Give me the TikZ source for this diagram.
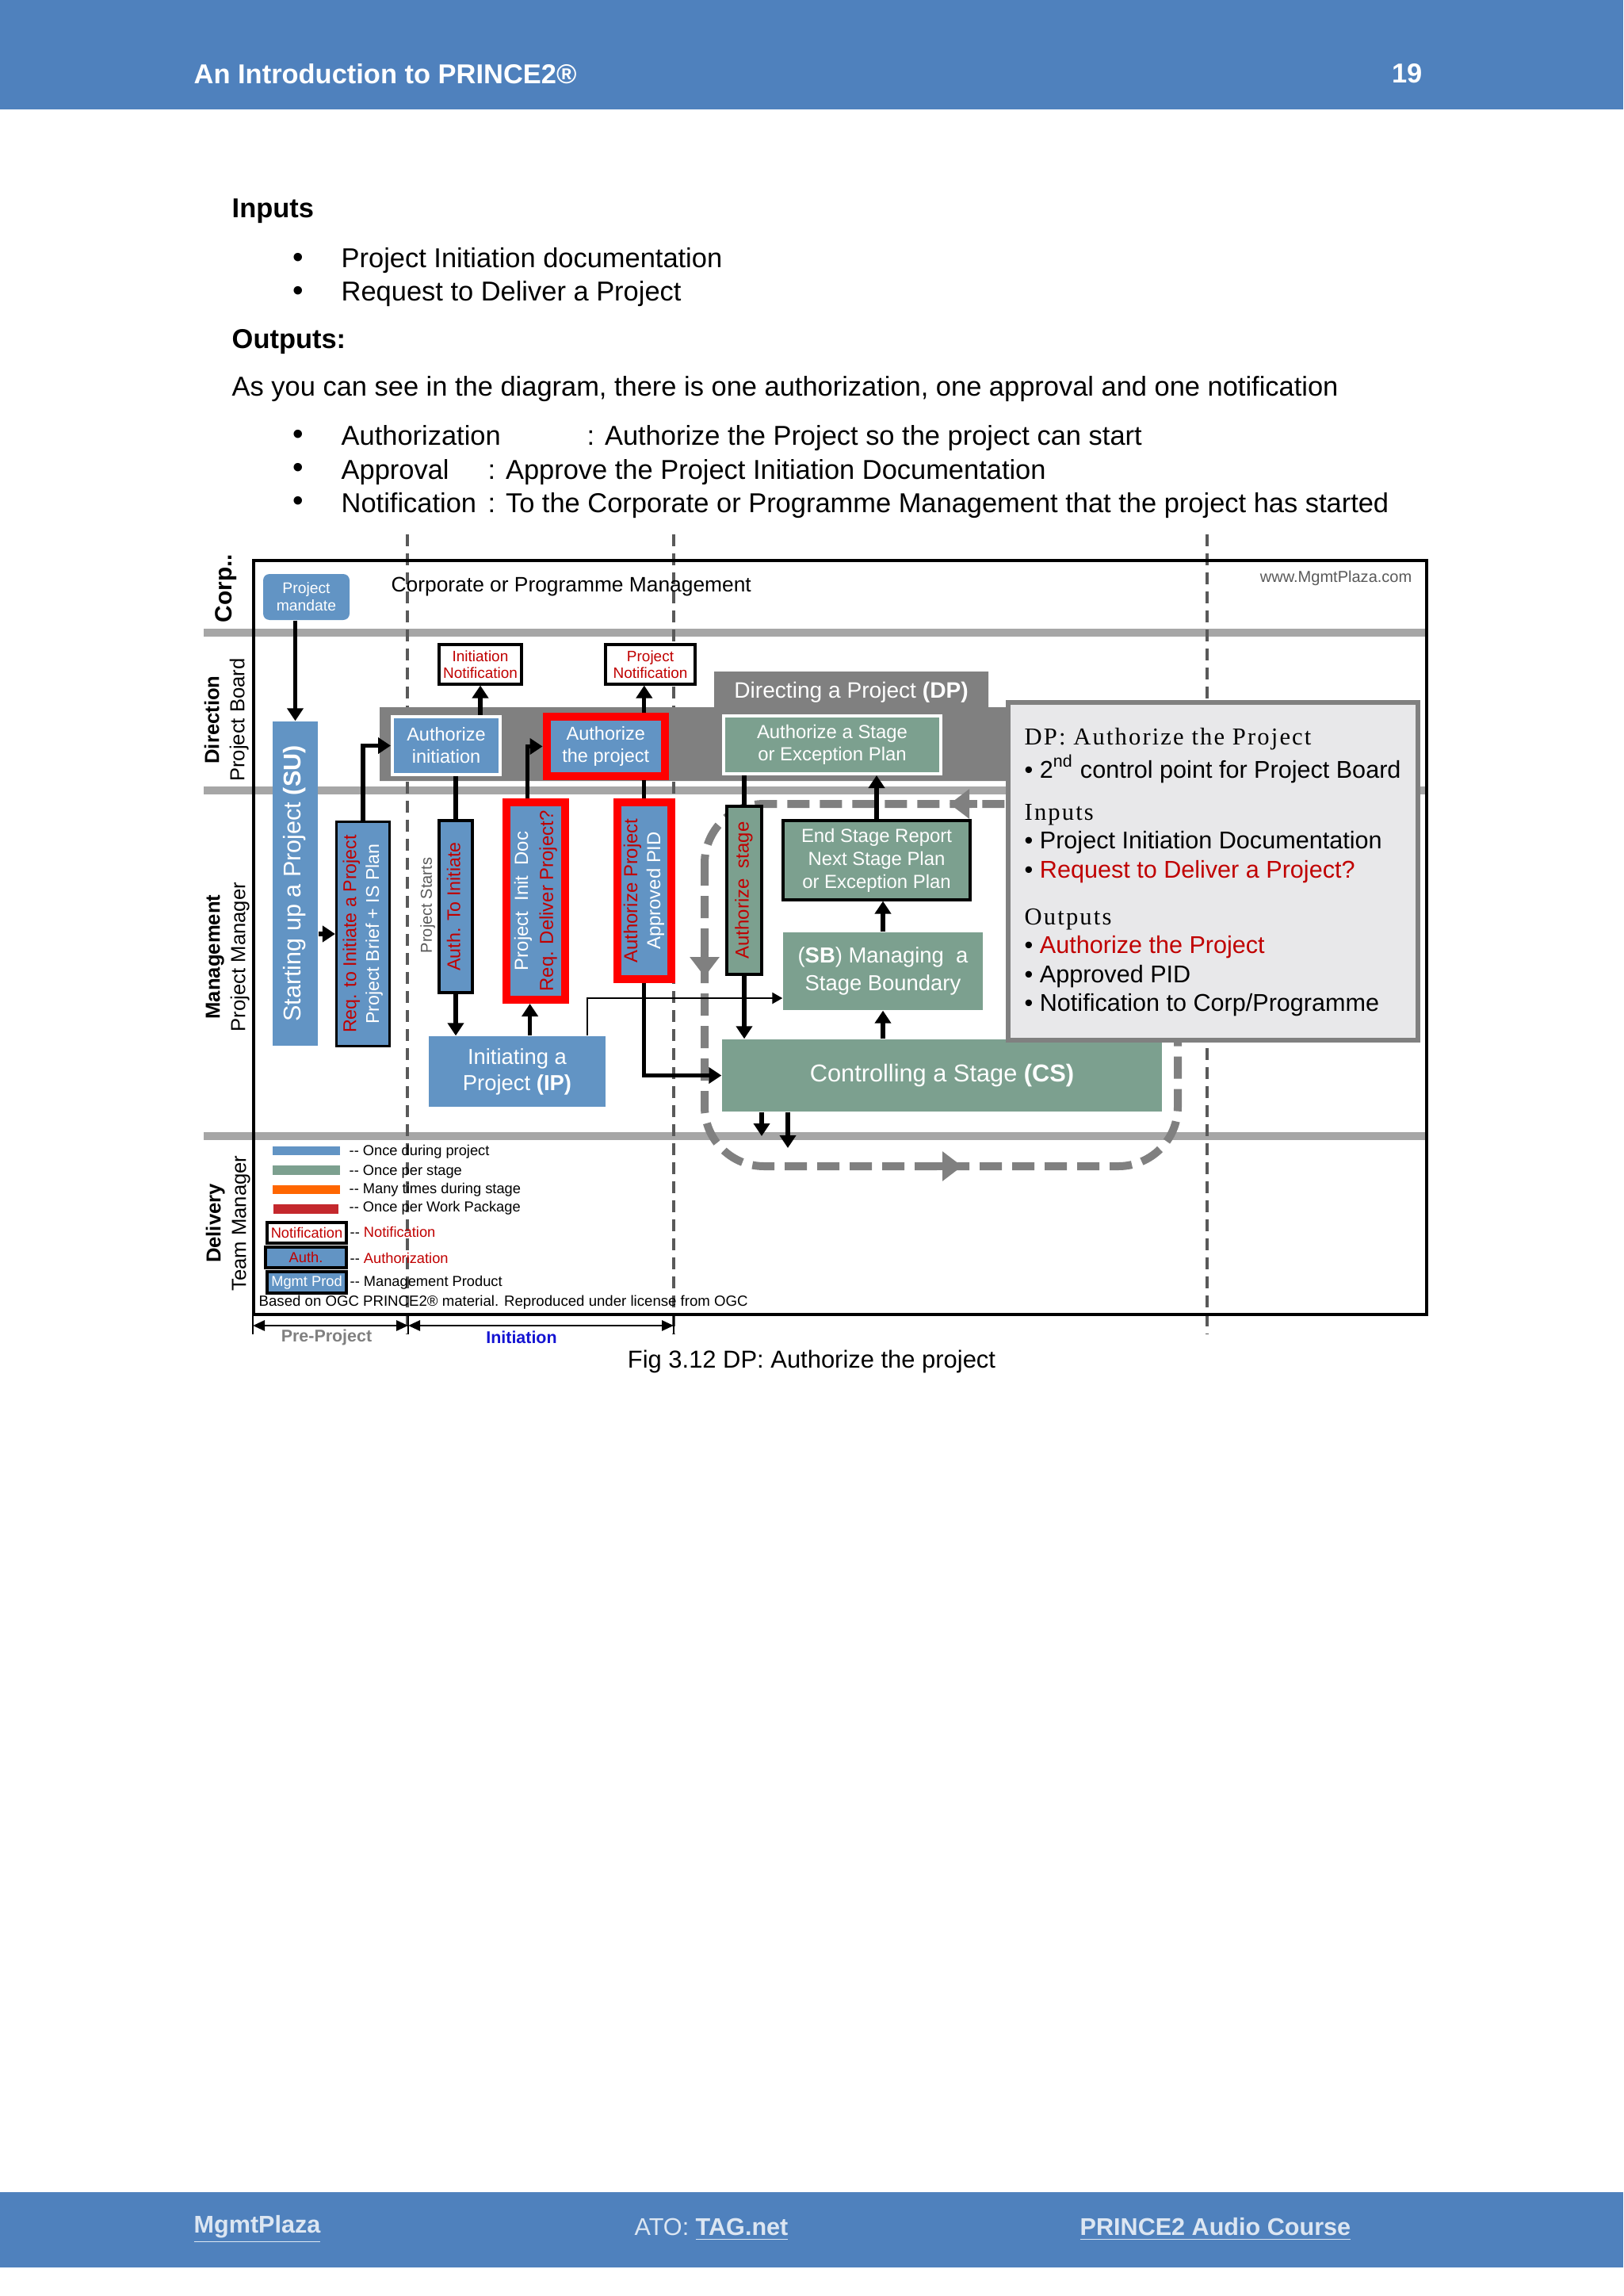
\documentclass[tikz,border=0pt]{standalone}
\usepackage{fontspec}
\setmainfont{Liberation Sans}
\newfontfamily\infoserif[LetterSpace=7]{Liberation Serif}
\usepackage{graphicx}
\usetikzlibrary{arrows.meta, positioning}

\definecolor{headblue}{RGB}{79,129,189}
\definecolor{procblue}{RGB}{98,148,196}
\definecolor{stagegreen}{RGB}{124,160,143}
\definecolor{dpgray}{RGB}{128,128,128}
\definecolor{lanegray}{RGB}{166,166,166}
\definecolor{dashgray}{RGB}{89,89,89}
\definecolor{infofill}{RGB}{232,232,234}
\definecolor{darkred}{RGB}{192,0,0}
\definecolor{foottext}{RGB}{220,230,242}
\definecolor{legorange}{RGB}{255,102,0}
\definecolor{legred}{RGB}{196,40,45}
\definecolor{initblue}{RGB}{20,20,210}

\newcommand{\fsz}[2]{\fontsize{#1}{#2}\selectfont}
\newcommand{\vtext}[1]{\rotatebox{90}{\begin{tabular}{@{}c@{}}#1\end{tabular}}}
\newcommand{\legdash}{-\kern0pt-\ }

\begin{document}
\begin{tikzpicture}[
        box/.style={fill=procblue, text=white, inner sep=0pt, align=center},
        stagebox/.style={fill=stagegreen, text=white, inner sep=0pt, align=center},
        mgmt/.style={draw=black, line width=0.9pt},
        note/.style={draw=black, line width=0.9pt, fill=white, text=darkred, inner sep=0pt, align=center, font=\fsz{5.4}{6}},
        flow/.style={-{Triangle[length=1.6mm, width=2mm]}, line width=1.5pt},
        link/.style={line width=1.5pt},
        thinflow/.style={-{Triangle[length=1.3mm, width=1.4mm]}, line width=0.7pt},
        lane/.style={font=\fsz{7.3}{9.1}, inner sep=0pt},
        body/.style={font=\fsz{9.8}{11.8}, inner sep=0pt, anchor=base west},
        bul/.style={font=\fsz{11}{11}, inner sep=0pt, anchor=west},
        info/.style={font=\fsz{8.7}{10.4}, inner sep=0pt, anchor=west},
        legtext/.style={font=\fsz{5.2}{6}, inner sep=0pt, anchor=west},
        loop/.style={draw=dpgray, line width=1mm, dash pattern=on 2.8mm off 1.3mm, rounded corners=0.75cm},
        looparrow/.style={draw=dpgray, line width=1mm, -{Triangle[length=2.5mm, width=3.6mm]}},
        span/.style={{Triangle[length=1.5mm, width=1.3mm]}-{Triangle[length=1.5mm, width=1.3mm]}, line width=0.8pt}
        ]
        \useasboundingbox (0,0) rectangle (20.48,-28.96);

        % page header and footer
        \fill[headblue] (0,0) rectangle (20.48,-1.38);
        \node[font=\fsz{9.8}{11.8}\bfseries, text=white, inner sep=0pt, anchor=west] (booktitle) at (2.44,-0.93) {An Introduction to PRINCE2®};
        \node[font=\fsz{9.8}{11.8}\bfseries, text=white, inner sep=0pt, anchor=east] (pagenum) at (17.95,-0.93) {19};
        \fill[headblue] (0,-27.65) rectangle (20.48,-28.60);
        \node[font=\fsz{8.7}{10.4}, text=foottext, inner sep=0pt, anchor=west] (foot1) at (2.44,-28.12) {\textbf{\underline{MgmtPlaza}}};
        \node[font=\fsz{8.7}{10.4}, text=foottext, inner sep=0pt, anchor=west] (foot2) at (8.00,-28.12) {ATO: \textbf{\underline{TAG.net}}};
        \node[font=\fsz{8.7}{10.4}, text=foottext, inner sep=0pt, anchor=west] (foot3) at (13.62,-28.12) {\textbf{\underline{PRINCE2 Audio Course}}};

        % text above the figure
        \node[body] (inputs) at (2.92,-2.75) {\textbf{Inputs}};
        \node[bul] (in1b) at (3.69,-3.28) {\textbullet};
        \node[body] (in1) at (4.30,-3.38) {Project Initiation documentation};
        \node[bul] (in2b) at (3.69,-3.70) {\textbullet};
        \node[body] (in2) at (4.30,-3.80) {Request to Deliver a Project};
        \node[body] (outputs) at (2.92,-4.40) {\textbf{Outputs:}};
        \node[body] (asyou) at (2.92,-5.00) {As you can see in the diagram, there is one authorization, one approval and one notification};
        \node[bul] (out1b) at (3.69,-5.51) {\textbullet};
        \node[body] (out1) at (4.30,-5.62) {Authorization};
        \node[body] (out1t) at (7.40,-5.62) {: Authorize the Project so the project can start};
        \node[bul] (out2b) at (3.69,-5.93) {\textbullet};
        \node[body] (out2) at (4.30,-6.04) {Approval};
        \node[body] (out2t) at (6.15,-6.04) {: Approve the Project Initiation Documentation};
        \node[bul] (out3b) at (3.69,-6.35) {\textbullet};
        \node[body] (out3) at (4.30,-6.46) {Notification};
        \node[body] (out3t) at (6.15,-6.46) {: To the Corporate or Programme Management that the project has started};

        % swim lanes
        \foreach \y in {7.98, 9.97, 14.33}
            \draw[lanegray, line width=1mm] (2.57,-\y) -- (18.00,-\y);
        \foreach \x in {5.14, 8.50, 15.23}
            \draw[dashgray, line width=0.4mm, dash pattern=on 1.5mm off 0.9mm] (\x,-6.74) -- (\x,-16.83);
        \draw[line width=1.3pt] (3.20,-7.07) rectangle (18.00,-16.58);

        \node[lane, font=\fsz{8.5}{10}\bfseries] (corp) at (2.85,-7.42) {\vtext{Corp..}};
        \node[lane] (direction) at (2.86,-9.08) {\vtext{\textbf{Direction}\\Project Board}};
        \node[lane] (management) at (2.87,-12.07) {\vtext{\textbf{Management}\\Project Manager}};
        \node[lane] (delivery) at (2.88,-15.43) {\vtext{\textbf{Delivery}\\Team Manager}};

        \node[font=\fsz{7.5}{9}, inner sep=0pt, anchor=west] (corptext) at (4.93,-7.40) {Corporate or Programme Management};
        \node[font=\fsz{5.7}{7}, text=dashgray, inner sep=0pt, anchor=east] (website) at (17.82,-7.29) {www.MgmtPlaza.com};

        % DP band
        \fill[dpgray] (4.79,-8.92) -| (9.01,-8.47) -| (12.47,-8.92) -| (13.30,-9.85) -- (4.79,-9.85) -- cycle;
        \node[font=\fsz{8}{9.6}, text=white, inner sep=0pt] (dptitle) at (10.74,-8.73) {Directing a Project \textbf{(DP)}};

        % stage loop
        \draw[loop] (8.89,-10.14) rectangle (14.86,-14.71);
        \draw[looparrow] (12.33,-10.14) -- (11.98,-10.14);
        \draw[looparrow] (8.89,-11.97) -- (8.89,-12.32);
        \draw[looparrow] (11.79,-14.71) -- (12.14,-14.71);

        % processes
        \node[box, rounded corners=0.8mm, minimum width=1.09cm, minimum height=0.58cm, font=\fsz{5.5}{6.3}] (mandate) at (3.865,-7.53) {Project\\mandate};
        \node[box, minimum width=0.57cm, minimum height=4.09cm, font=\fsz{8.7}{10}] (su) at (3.725,-11.145) {\vtext{Starting up a Project \textbf{(SU)}}};
        \node[box, mgmt, minimum width=0.67cm, minimum height=2.83cm, font=\fsz{6.6}{8.2}] (reqinit) at (4.58,-11.78) {\vtext{\textcolor{darkred}{Req. to Initiate a Project}\\Project Brief + IS Plan}};
        \node[box, draw=white, line width=0.4mm, minimum width=1.36cm, minimum height=0.73cm, font=\fsz{6.7}{8}] (authinit) at (5.63,-9.405) {Authorize\\initiation};
        \node[box, draw=red, line width=1mm, minimum width=1.495cm, minimum height=0.75cm, font=\fsz{6.7}{8}] (authproj) at (7.643,-9.415) {Authorize\\the project};
        \node[note, minimum width=1.04cm, minimum height=0.50cm] (initnote) at (6.06,-8.38) {Initiation\\Notification};
        \node[note, minimum width=1.13cm, minimum height=0.50cm] (projnote) at (8.205,-8.38) {Project\\Notification};
        \node[box, mgmt, minimum width=0.42cm, minimum height=2.17cm, font=\fsz{6.6}{8}, text=darkred] (authinitiate) at (5.75,-11.435) {\vtext{Auth. To Initiate}};
        \node[font=\fsz{5.7}{7}, text=dashgray, inner sep=0pt] (projstarts) at (5.40,-11.42) {\vtext{Project Starts}};
        \node[box, minimum width=2.23cm, minimum height=0.89cm, font=\fsz{7.8}{9.4}] (ip) at (6.525,-13.515) {Initiating a\\Project \textbf{(IP)}};
        \node[box, draw=red, line width=1mm, minimum width=0.74cm, minimum height=2.49cm, font=\fsz{6.8}{9}] (pid) at (6.756,-11.365) {\vtext{Project~~Init~~Doc\\\textcolor{darkred}{Req. Deliver Project?}}};
        \node[box, draw=red, line width=1mm, minimum width=0.684cm, minimum height=2.23cm, font=\fsz{6.8}{8.3}] (apid) at (8.128,-11.235) {\vtext{\textcolor{darkred}{Authorize Project}\\Approved PID}};
        \node[stagebox, minimum width=5.55cm, minimum height=0.91cm, font=\fsz{8.75}{10.5}] (cs) at (11.885,-13.565) {Controlling a Stage \textbf{(CS)}};
        \node[stagebox, mgmt, minimum width=0.44cm, minimum height=2.12cm, font=\fsz{6.8}{8}, text=darkred] (authstage) at (9.39,-11.23) {\vtext{Authorize~~stage}};
        \node[stagebox, draw=white, line width=0.4mm, minimum width=2.74cm, minimum height=0.73cm, font=\fsz{6.8}{8}] (asp) at (10.50,-9.395) {Authorize a Stage\\or Exception Plan};
        \node[stagebox, mgmt, minimum width=2.36cm, minimum height=1.00cm, font=\fsz{6.8}{8.3}] (esr) at (11.06,-10.85) {End Stage Report\\Next Stage Plan\\or Exception Plan};
        \node[stagebox, minimum width=2.52cm, minimum height=0.98cm, font=\fsz{7.8}{10}] (sb) at (11.14,-12.25) {(\textbf{SB}) Managing~~a\\Stage Boundary};

        \coordinate (csout1) at (9.61,-14.33);
        \coordinate (csout2) at (9.94,-14.48);

        % flows
        \draw[flow] (mandate.south -| su.north) -- (su.north);
        \draw[flow] (su.east |- reqinit.west) -- (reqinit.west);
        \draw[flow] (reqinit.north) |- (authinit.west);
        \draw[flow] (initnote.south |- authinit.north) -- (initnote.south);
        \draw[flow] (apid.north |- authproj.north) -- (apid.north |- projnote.south);
        \draw[link] (authinitiate.north |- authinit.south) -- (authinitiate.north);
        \draw[flow] (authinitiate.south) -- (authinitiate.south |- ip.north);
        \draw[flow] ([xshift=-0.7mm]pid.south |- ip.north) -- ([xshift=-0.7mm]pid.south);
        \draw[flow] ([xshift=-1mm]pid.north) |- (authproj.west);
        \draw[link] (apid.north |- authproj.south) -- (apid.north);
        \draw[flow] (apid.south) |- (cs.west);
        \draw[link] (authstage.north |- asp.south) -- (authstage.north);
        \draw[flow] (authstage.south) -- (authstage.south |- cs.north);
        \draw[flow] (esr.north) -- (esr.north |- asp.south);
        \draw[flow] (sb.north) -- (sb.north |- esr.south);
        \draw[flow] (sb.south |- cs.north) -- (sb.south);
        \draw[thinflow] ([xshift=0.885cm]ip.north) |- ([yshift=-0.34cm]sb.west);
        \draw[flow] (cs.south -| csout1) -- (csout1);
        \draw[flow] (cs.south -| csout2) -- (csout2);

        % DP: Authorize the Project
        \node[draw=dpgray, line width=0.6mm, fill=infofill, minimum width=5.17cm, minimum height=4.26cm] (infobox) at (15.305,-10.99) {};
        \node[info] (info1) at (12.92,-9.32) {\infoserif DP: Authorize the Project};
        \node[info] (info2) at (12.92,-9.70) {\textbullet\ 2\textsuperscript{nd} control point for Project Board};
        \node[info] (info3) at (12.92,-10.28) {\infoserif Inputs};
        \node[info] (info4) at (12.92,-10.63) {\textbullet\ Project Initiation Documentation};
        \node[info] (info5) at (12.92,-11.00) {\textbullet\ \textcolor{darkred}{Request to Deliver a Project?}};
        \node[info] (info6) at (12.92,-11.60) {\infoserif Outputs};
        \node[info] (info7) at (12.92,-11.95) {\textbullet\ \textcolor{darkred}{Authorize the Project}};
        \node[info] (info8) at (12.92,-12.32) {\textbullet\ Approved PID};
        \node[info] (info9) at (12.92,-12.68) {\textbullet\ Notification to Corp/Programme};

        % legend
        \fill[procblue] (3.44,-14.46) rectangle (4.29,-14.57);
        \fill[stagegreen] (3.44,-14.70) rectangle (4.29,-14.82);
        \fill[legorange] (3.44,-14.95) rectangle (4.29,-15.06);
        \fill[legred] (3.45,-15.19) rectangle (4.27,-15.31);
        \node[legtext] (leg1) at (4.40,-14.53) {\legdash Once during project};
        \node[legtext] (leg2) at (4.40,-14.78) {\legdash Once per stage};
        \node[legtext] (leg3) at (4.40,-15.01) {\legdash Many times during stage};
        \node[legtext] (leg4) at (4.40,-15.24) {\legdash Once per Work Package};
        \node[note, minimum width=1.0cm, minimum height=0.26cm, font=\fsz{5.2}{6}] (legnote) at (3.87,-15.55) {Notification};
        \node[box, mgmt, minimum width=1.02cm, minimum height=0.26cm, font=\fsz{5.2}{6}, text=darkred] (legauth) at (3.86,-15.86) {Auth.};
        \node[box, mgmt, minimum width=1.0cm, minimum height=0.27cm, font=\fsz{5.2}{6}] (legprod) at (3.87,-16.175) {Mgmt Prod};
        \node[legtext] (leg5) at (4.41,-15.54) {\legdash\textcolor{darkred}{Notification}};
        \node[legtext] (leg6) at (4.41,-15.87) {\legdash\textcolor{darkred}{Authorization}};
        \node[legtext] (leg7) at (4.41,-16.18) {\legdash Management Product};
        \node[legtext, font=\fsz{5.3}{6}] (ogc) at (3.26,-16.43) {Based on OGC PRINCE2® material. Reproduced under license from OGC};

        % time line
        \coordinate (t0) at (3.19,-16.72);
        \coordinate (t1) at (5.15,-16.72);
        \coordinate (t2) at (8.50,-16.72);
        \foreach \t in {t0,t1,t2}
            \draw[line width=0.8pt] ([yshift=0.12cm]\t) -- ([yshift=-0.11cm]\t);
        \draw[span] (t0) -- (t1);
        \draw[span] (t1) -- (t2);
        \node[font=\fsz{6.1}{7}\bfseries, text=dpgray, inner sep=0pt] (preproj) at (4.12,-16.87) {Pre-Project};
        \node[font=\fsz{6.1}{7}\bfseries, text=initblue, inner sep=0pt] (initiation) at (6.58,-16.87) {Initiation};

        \node[font=\fsz{8.8}{10.5}, inner sep=0pt] (caption) at (10.24,-17.17) {Fig 3.12 DP: Authorize the project};
    \end{tikzpicture}
\end{document}
